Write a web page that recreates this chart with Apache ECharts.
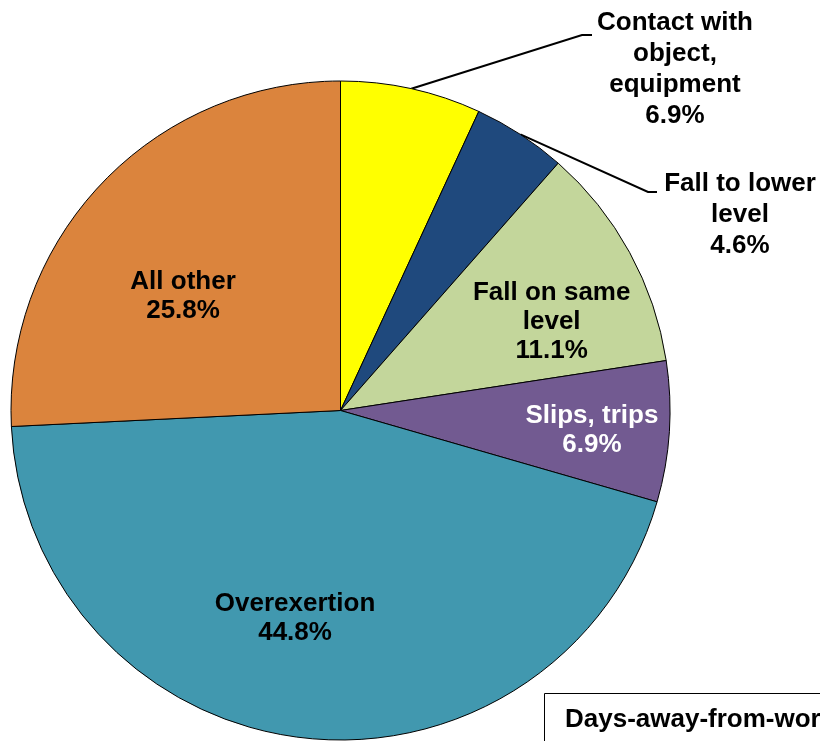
<!DOCTYPE html>
<html>
<head>
<meta charset="utf-8">
<script src="https://cdn.jsdelivr.net/npm/echarts@6/dist/echarts.min.js"></script>
<style>
  html, body { margin: 0; padding: 0; background: #fff; }
  #main { width: 820px; height: 741px; }
</style>
</head>
<body>
<div id="main"></div>
<script>
// data
var categories = ['Contact with\nobject,\nequipment', 'Fall to lower\nlevel', 'Fall on same\nlevel', 'Slips, trips', 'Overexertion', 'All other'];
var shares = [6.9, 4.6, 11.1, 6.9, 44.8, 25.8];
var boxTitle = 'Days-away-from-work cases';

// styles
var sliceColors = ['#FFFF00', '#1F497D', '#C3D69B', '#725A91', '#4198AF', '#DB843D'];
var labelColors = ['#000', '#000', '#000', '#fff', '#000', '#000'];
var outsideLabels = [0, 1];
// label placement: inside labels are shifted (dx, dy), outside ones are placed at x, y
var labelPlace = {
    0: { x: 675, y: 69, line: [[-93, -34], [-83, -34]] },
    1: { x: 740, y: 215, line: [[-92, -23], [-83, -23]] },
    2: { dx: 64, dy: -8 },
    3: { dx: 84, dy: 9 },
    4: { dx: -26, dy: 41 },
    5: { dx: -36, dy: 2 }
};

var pieData = categories.map(function (name, i) {
    var outside = outsideLabels.indexOf(i) >= 0;
    return {
        name: name,
        value: shares[i],
        itemStyle: { color: sliceColors[i] },
        label: {
            position: outside ? 'outside' : 'inside',
            color: labelColors[i],
            lineHeight: outside ? 31 : 29
        },
        labelLine: { show: outside }
    };
});

var chart = echarts.init(document.getElementById('main'));
chart.setOption({
    animation: false,
    backgroundColor: '#fff',
    series: [{
        type: 'pie',
        center: [340.5, 410.5],
        radius: [0, 329.5],
        startAngle: 90,
        clockwise: true,
        avoidLabelOverlap: false,
        itemStyle: { borderColor: '#000', borderWidth: 1 },
        label: {
            formatter: function (p) { return p.name + '\n' + p.value.toFixed(1) + '%'; },
            fontFamily: 'Liberation Sans, Arial, sans-serif',
            fontWeight: 'bold',
            fontSize: 26,
            align: 'center'
        },
        labelLine: {
            lineStyle: { color: '#000', width: 2 },
            length: 20,
            length2: 10
        },
        labelLayout: function (params) {
            var p = labelPlace[params.dataIndex];
            if (p.x !== undefined) {
                var start = params.labelLinePoints ? params.labelLinePoints[0] : [p.x, p.y];
                return {
                    x: p.x, y: p.y, align: 'center', verticalAlign: 'middle',
                    labelLinePoints: [start,
                        [p.x + p.line[0][0], p.y + p.line[0][1]],
                        [p.x + p.line[1][0], p.y + p.line[1][1]]]
                };
            }
            return { dx: p.dx, dy: p.dy };
        },
        data: pieData
    }],
    graphic: [{
        type: 'rect',
        left: 544, top: 693,
        shape: { width: 320, height: 80 },
        style: { fill: '#fff', stroke: '#000', lineWidth: 1 }
    }, {
        type: 'text',
        left: 565, top: 707,
        style: {
            text: boxTitle,
            font: 'bold 26px "Liberation Sans", Arial, sans-serif',
            fill: '#000'
        }
    }]
});
</script>
</body>
</html>
